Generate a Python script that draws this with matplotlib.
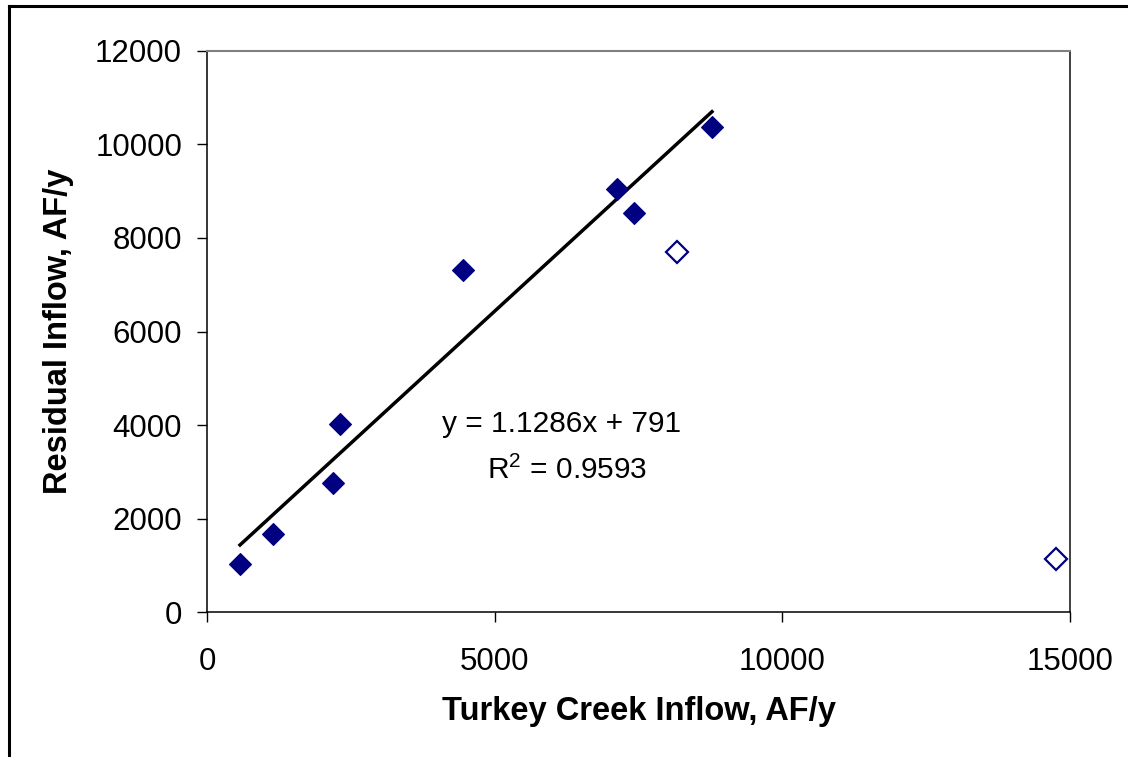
import numpy as np
import matplotlib
matplotlib.use('Agg')
import matplotlib.pyplot as plt
from matplotlib.lines import Line2D

plt.rcParams['font.family'] = ['Liberation Sans', 'DejaVu Sans']
plt.rcParams['mathtext.fontset'] = 'custom'
plt.rcParams['mathtext.rm'] = 'Liberation Sans'

# data
x_fit = [574, 1152, 2195, 2311, 4454, 7120, 7415, 8777]
y_fit = [1032, 1673, 2756, 4017, 7314, 9045, 8532, 10370]
x_out = [8163, 14755]
y_out = [7692, 1139]
slope = 1.1286
intercept = 791
r2 = 0.9593

x_ticks = [0, 5000, 10000, 15000]
y_ticks = [0, 2000, 4000, 6000, 8000, 10000, 12000]

navy = '#000080'

# -----------------------------------------------------------------------------
fig = plt.figure(figsize=(11.28, 7.57), dpi=100)
ax = fig.add_axes([207 / 1128, 1 - 612.3 / 757, (1070 - 207) / 1128, (612.3 - 50.7) / 757])

ax.plot(x_fit, y_fit, linestyle='none', marker='D', markersize=11,
        color=navy, markeredgecolor=navy, markeredgewidth=0.8, zorder=3)
ax.plot(x_out, y_out, linestyle='none', marker='D', markersize=11.5,
        markerfacecolor='white', markeredgecolor=navy, markeredgewidth=1.6, zorder=3)

xl = np.array([min(x_fit), max(x_fit)])
ax.plot(xl, slope * xl + intercept, color='black', linewidth=2.5, zorder=2)

ax.text(6170, 4020, 'y = %.4fx + %d' % (slope, intercept), fontsize=21.5,
        ha='center', va='center')
ax.text(6256, 3050, 'R$^{2}$ = %.4f' % r2, fontsize=21.5, ha='center', va='center')

ax.set_xlim(0, 15000)
ax.set_ylim(0, 12000)
ax.set_xticks(x_ticks)
ax.set_yticks(y_ticks)
ax.tick_params(axis='both', direction='out', length=7, width=1, labelsize=22.5, color='black')
ax.tick_params(axis='x', pad=18)
ax.tick_params(axis='y', pad=11)

for s in ['left', 'bottom']:
    ax.spines[s].set_color('black')
    ax.spines[s].set_linewidth(1.1)
ax.spines['top'].set_color('#808080')
ax.spines['top'].set_linewidth(1.5)
ax.spines['right'].set_color('#202020')
ax.spines['right'].set_linewidth(1.2)

ax.set_xlabel('Turkey Creek Inflow, AF/y', fontsize=23.5, fontweight='bold', labelpad=14)
ax.set_ylabel('Residual Inflow, AF/y', fontsize=23.5, fontweight='bold', labelpad=15)

# outer chart border (top and left only visible)
fig.add_artist(Line2D([8.5 / 1128, 1.0], [1 - 5.5 / 757, 1 - 5.5 / 757], transform=fig.transFigure,
                      color='black', linewidth=2.2))
fig.add_artist(Line2D([8.5 / 1128, 8.5 / 1128], [0.0, 1 - 5.5 / 757], transform=fig.transFigure,
                      color='black', linewidth=2.2))

fig.savefig('out.png', dpi=100)
